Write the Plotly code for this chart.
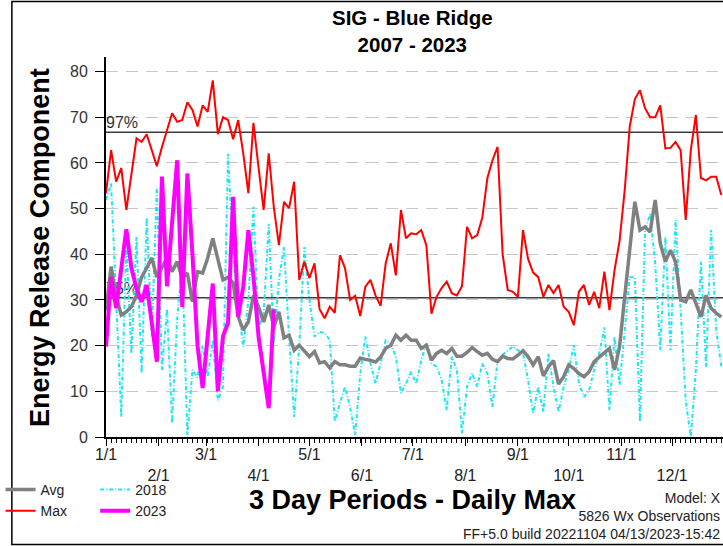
import plotly.graph_objects as go

# ---- data ----
periods = list(range(122))            # 3-day periods from 1/1
max_erc = [53.4, 62.8, 55.9, 58.9, 49.7, 57.5, 65.4, 64.6, 66.3, 62.8,
           59.3, 63.5, 67.2, 70.9, 69.0, 69.4, 73.3, 71.6, 68.0, 72.6,
           71.2, 78.1, 66.3, 70.0, 69.4, 65.2, 69.4, 62.0, 53.4, 68.8,
           59.0, 49.7, 62.1, 50.3, 42.0, 51.5, 50.1, 55.9, 34.4, 38.4,
           34.8, 38.0, 28.0, 26.0, 28.5, 27.2, 39.8, 37.0, 30.0, 30.9,
           26.5, 32.9, 34.4, 31.0, 28.7, 38.0, 42.4, 35.4, 49.7, 43.5,
           44.6, 44.4, 45.3, 42.0, 27.0, 30.7, 32.6, 34.0, 31.5, 31.0,
           33.0, 46.0, 43.5, 44.2, 48.0, 56.7, 60.6, 63.5, 40.0, 32.2,
           31.8, 30.7, 45.3, 39.0, 36.0, 35.0, 30.7, 33.3, 31.5, 33.3,
           28.5, 27.4, 24.5, 31.8, 33.3, 28.9, 31.8, 28.2, 36.2, 27.8,
           36.5, 43.0, 54.0, 68.0, 74.0, 75.9, 72.0, 70.0, 70.0, 72.6,
           63.2, 63.3, 64.6, 62.8, 47.5, 62.8, 70.5, 56.7, 56.2, 57.0,
           57.0, 53.0]
avg_erc = [27.8, 37.3, 30.7, 26.7, 27.4, 28.5, 31.0, 35.0, 37.0, 39.2,
           35.0, 37.0, 39.2, 36.2, 38.4, 34.8, 35.9, 29.6, 36.2, 35.9,
           39.2, 43.5, 38.7, 34.4, 35.0, 33.7, 26.3, 23.4, 25.2, 31.0,
           28.5, 25.2, 28.9, 24.1, 27.4, 21.7, 22.3, 19.0, 20.1, 18.7,
           17.6, 18.7, 16.2, 16.5, 15.1, 16.5, 15.8, 15.8, 15.5, 15.5,
           17.3, 17.0, 16.8, 16.4, 17.5, 19.4, 20.1, 22.3, 21.2, 22.3,
           21.2, 21.2, 19.4, 20.1, 16.8, 18.3, 19.0, 18.3, 19.4, 17.7,
           17.7, 18.5, 19.6, 18.7, 17.9, 18.3, 17.0, 16.5, 17.7, 17.2,
           17.1, 17.9, 18.9, 17.6, 15.8, 17.6, 13.4, 15.4, 16.7, 11.6,
           13.2, 15.8, 15.0, 13.9, 13.2, 14.3, 16.5, 17.5, 18.5, 19.4,
           14.7, 19.8, 30.7, 41.6, 51.5, 45.3, 46.0, 44.9, 51.9, 42.4,
           38.4, 40.9, 38.4, 30.0, 29.6, 32.2, 29.3, 26.3, 31.0, 28.2,
           27.1, 26.3]
erc_2018 = [51.9, 55.6, 30.0, 4.4, 42.4, 18.3, 43.8, 14.0, 48.0, 22.0,
            54.8, 14.7, 28.0, 3.0, 26.0, 38.0, 0.4, 14.7, 13.0, 20.0,
            13.2, 21.2, 8.0, 11.0, 62.0, 40.0, 28.5, 19.8, 30.0, 50.4,
            24.0, 27.0, 46.7, 20.5, 34.4, 41.6, 22.0, 4.4, 19.8, 41.6,
            30.0, 22.0, 23.0, 22.8, 21.2, 3.4, 7.4, 11.0, 6.6, 0.4,
            13.9, 22.0, 16.1, 11.7, 16.1, 21.2, 20.5, 17.6, 9.6, 11.7,
            14.3, 11.7, 16.8, 20.5, 16.1, 15.4, 12.5, 5.9, 17.6, 14.7,
            0.8, 11.0, 13.9, 11.0, 16.1, 13.9, 6.6, 16.8, 18.0, 19.0,
            19.8, 19.0, 18.3, 12.5, 5.2, 11.0, 5.5, 18.3, 11.0, 5.5,
            11.0, 14.7, 20.1, 11.7, 8.8, 10.3, 14.7, 18.3, 24.0, 5.9,
            22.0, 11.4, 23.0, 35.0, 35.0, 3.4, 45.3, 48.9, 38.0, 19.0,
            43.8, 19.0, 47.5, 27.8, 8.0, 0.0, 14.7, 38.4, 15.4, 45.3,
            23.4, 15.4]
erc_2023 = [19.8, 35.0, 28.2, 37.0, 45.5, 37.0, 32.5, 29.6, 33.3, 25.0,
            16.5, 57.0, 33.0, 47.0, 60.6, 28.5, 57.7, 40.0, 20.0, 10.7,
            22.0, 33.6, 10.0, 22.0, 25.0, 52.6, 26.3, 33.0, 45.3, 35.0,
            22.0, 14.0, 6.3, 28.0]
month_start_days = [0, 31, 59, 90, 120, 151, 181, 212, 243, 273, 304, 334]
month_labels = ["1/1", "2/1", "3/1", "4/1", "5/1", "6/1",
                "7/1", "8/1", "9/1", "10/1", "11/1", "12/1"]
pct_labels = ["97%", "75%"]
pct_values = [66.7, 30.5]
y_ticks = [0, 10, 20, 30, 40, 50, 60, 70, 80]
footer_lines = ["Model: X", "5826 Wx Observations", "FF+5.0 build 20221104 04/13/2023-15:42"]

days = [3 * p for p in periods]
days_2023 = days[:len(erc_2023)]
# stagger month labels onto two rows
tick_text = [lab if k % 2 == 0 else "<br>" + lab for k, lab in enumerate(month_labels)]

FONT = "Liberation Sans, Arial, sans-serif"
X_END = 364

fig = go.Figure()

# percentile reference lines and their labels (drawn first, under data)
for lab, val in zip(pct_labels, pct_values):
    fig.add_trace(go.Scatter(x=[0, X_END], y=[val, val], mode="lines",
                             line=dict(color="#3c3c3c", width=1.5),
                             showlegend=False, hoverinfo="skip"))
    fig.add_trace(go.Scatter(x=[0], y=[val], mode="text", text=[lab],
                             textposition="top right",
                             textfont=dict(family=FONT, size=16, color="#333333"),
                             showlegend=False, hoverinfo="skip"))

fig.add_trace(go.Scatter(x=days, y=erc_2018, mode="lines", name="2018",
                         line=dict(color="#1ee6f0", width=2, dash="4px,2px,1px,2px"),
                         legend="legend2"))
fig.add_trace(go.Scatter(x=days, y=avg_erc, mode="lines", name="Avg",
                         line=dict(color="#808080", width=3.5), legend="legend"))
fig.add_trace(go.Scatter(x=days, y=max_erc, mode="lines", name="Max",
                         line=dict(color="#ff0000", width=2), legend="legend"))
fig.add_trace(go.Scatter(x=days_2023, y=erc_2023, mode="lines", name="2023",
                         line=dict(color="#ff00ff", width=4), legend="legend2"))
# carrier for the 3-day minor tick axis
fig.add_trace(go.Scatter(x=[0], y=[0], mode="markers", marker=dict(opacity=0),
                         xaxis="x2", showlegend=False, hoverinfo="skip"))

W, H = 723, 546
L, R, T, B = 97, 0, 57, 109
PW, PH = W - L - R, H - T - B


def px_x(px):
    return (px - L) / PW


def px_y(py):
    return (H - B - py) / PH


fig.update_layout(
    width=W, height=H,
    margin=dict(l=L, r=R, t=T, b=B),
    paper_bgcolor="white", plot_bgcolor="white",
    font=dict(family=FONT, size=15, color="#222222"),
    showlegend=True,
    xaxis=dict(range=[0, X_END], showline=True, linecolor="black", linewidth=2,
               ticks="outside", tickvals=month_start_days, ticktext=tick_text,
               ticklen=7, tickcolor="black", tickwidth=1, ticklabelstandoff=-5,
               tickfont=dict(family=FONT, size=16, color="#222222"),
               showgrid=False, zeroline=False, fixedrange=True),
    xaxis2=dict(overlaying="x", matches="x", anchor="y", side="bottom",
                tickmode="linear", tick0=0, dtick=3, ticks="outside", ticklen=5,
                tickcolor="black", tickwidth=1, showticklabels=False,
                showline=False, showgrid=False, zeroline=False, fixedrange=True),
    yaxis=dict(range=[0, 83.2], showline=True, linecolor="black", linewidth=2,
               ticks="outside", tickvals=y_ticks, ticklen=9, tickcolor="black",
               ticklabelstandoff=4,
               tickfont=dict(family=FONT, size=16, color="#333333"),
               showgrid=True, gridcolor="#c8c8c8", griddash="12px,8px", gridwidth=1,
               zeroline=False, fixedrange=True),
    legend=dict(x=px_x(-10), y=px_y(474), xanchor="left", yanchor="top",
                bgcolor="rgba(0,0,0,0)", font=dict(family=FONT, size=14, color="#222222"),
                itemwidth=30, tracegroupgap=0),
    legend2=dict(x=px_x(86), y=px_y(474), xanchor="left", yanchor="top",
                 bgcolor="rgba(0,0,0,0)", font=dict(family=FONT, size=14, color="#222222"),
                 itemwidth=30, tracegroupgap=0),
)

annotations = [
    dict(text="<b>SIG - Blue Ridge</b><br><b>2007 - 2023</b>", x=px_x(408), y=px_y(31),
         xanchor="center", yanchor="middle", font=dict(size=20.5, color="black")),
    dict(text="<b>Energy Release Component</b>", x=px_x(30), y=0.5, textangle=-90,
         xanchor="center", yanchor="middle", font=dict(size=27, color="black")),
    dict(text="<b>3 Day Periods - Daily Max</b>", x=px_x(408), y=px_y(500),
         xanchor="center", yanchor="middle", font=dict(size=27, color="black")),
    dict(text="<br>".join(footer_lines), x=1, y=px_y(516), xanchor="right",
         yanchor="middle", align="right", font=dict(size=14, color="#222222")),
]
for a in annotations:
    a.update(xref="paper", yref="paper", showarrow=False)
fig.update_layout(annotations=annotations)

fig.add_shape(type="rect", xref="paper", yref="paper",
              x0=px_x(1.5), x1=px_x(730), y0=px_y(544.5), y1=px_y(1.5),
              line=dict(color="black", width=1.5), fillcolor="rgba(0,0,0,0)", layer="above")

fig.write_html("out.html", config={"displayModeBar": False},
               post_script="document.body.style.margin='0';"
                           "document.documentElement.style.overflow='hidden';")
